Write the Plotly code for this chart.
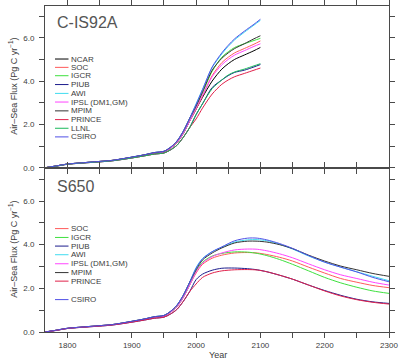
import plotly.graph_objects as go

# ---------------- data ----------------
years_is92a = [1765, 1780, 1800, 1820, 1850, 1870, 1900, 1920, 1935, 1950, 1960, 1970, 1980, 1990,
               2000, 2010, 2025, 2040, 2050, 2060, 2075, 2090, 2100]
years_s650 = [1765, 1780, 1800, 1820, 1850, 1870, 1900, 1920, 1935, 1950, 1960, 1970, 1980, 1990,
              2000, 2010, 2025, 2040, 2060, 2080, 2095, 2110, 2130, 2150, 2175, 2200, 2225, 2250, 2275, 2300]

hist_hi = [0.0, 0.07, 0.17, 0.22, 0.29, 0.34, 0.49, 0.60, 0.70, 0.76, 0.94, 1.22, 1.68, 2.28]
hist_mid = [0.0, 0.07, 0.17, 0.22, 0.29, 0.34, 0.48, 0.59, 0.68, 0.73, 0.90, 1.15, 1.58, 2.15]
hist_lo = [0.0, 0.06, 0.16, 0.21, 0.27, 0.32, 0.45, 0.55, 0.63, 0.68, 0.82, 1.03, 1.40, 1.85]

# IS92a (2000 onwards)
ncar_is92a = [2.70, 3.25, 4.00, 4.55, 4.80, 5.00, 5.20, 5.40, 5.55]
soc_is92a = [2.70, 3.30, 4.25, 4.85, 5.10, 5.30, 5.50, 5.70, 5.85]
igcr_is92a = [2.80, 3.45, 4.45, 5.10, 5.35, 5.55, 5.72, 5.87, 5.97]
piub_is92a = [2.45, 2.95, 3.70, 4.05, 4.25, 4.40, 4.50, 4.65, 4.76]
awi_is92a = [2.95, 3.62, 4.62, 5.25, 5.60, 5.90, 6.25, 6.58, 6.80]
ipsl_is92a = [2.75, 3.35, 4.20, 4.75, 5.00, 5.20, 5.40, 5.60, 5.72]
mpim_is92a = [2.85, 3.50, 4.50, 5.05, 5.30, 5.50, 5.72, 5.95, 6.09]
prince_is92a = [2.25, 2.75, 3.40, 3.85, 4.05, 4.20, 4.35, 4.50, 4.60]
llnl_is92a = [2.45, 2.95, 3.65, 4.05, 4.28, 4.42, 4.55, 4.70, 4.80]
csiro_is92a = [2.92, 3.60, 4.65, 5.30, 5.65, 5.95, 6.30, 6.62, 6.85]

# S650 (2000 onwards)
soc_s650 = [2.70, 3.10, 3.38, 3.52, 3.62, 3.64, 3.62, 3.55, 3.42, 3.25, 2.97, 2.70, 2.45, 2.28, 2.13, 2.03]
igcr_s650 = [2.80, 3.20, 3.48, 3.60, 3.67, 3.66, 3.60, 3.50, 3.32, 3.10, 2.80, 2.50, 2.25, 2.05, 1.88, 1.77]
piub_s650 = [2.40, 2.65, 2.83, 2.92, 2.93, 2.90, 2.85, 2.76, 2.60, 2.42, 2.15, 1.90, 1.68, 1.50, 1.38, 1.31]
awi_s650 = [2.95, 3.37, 3.68, 3.88, 4.12, 4.22, 4.23, 4.18, 4.02, 3.80, 3.48, 3.20, 2.97, 2.76, 2.55, 2.35]
ipsl_s650 = [2.75, 3.15, 3.45, 3.62, 3.76, 3.80, 3.79, 3.72, 3.58, 3.40, 3.12, 2.85, 2.62, 2.45, 2.28, 2.15]
mpim_s650 = [2.85, 3.30, 3.62, 3.85, 4.08, 4.16, 4.16, 4.12, 4.00, 3.82, 3.52, 3.25, 3.02, 2.85, 2.68, 2.55]
prince_s650 = [2.20, 2.50, 2.70, 2.80, 2.85, 2.86, 2.84, 2.76, 2.60, 2.42, 2.15, 1.88, 1.65, 1.48, 1.36, 1.28]
csiro_s650 = [2.92, 3.35, 3.68, 3.90, 4.18, 4.30, 4.30, 4.22, 4.05, 3.83, 3.50, 3.20, 2.97, 2.75, 2.50, 2.30]

models_is92a = ["NCAR", "SOC", "IGCR", "PIUB", "AWI", "IPSL (DM1,GM)", "MPIM", "PRINCE", "LLNL", "CSIRO"]
models_s650 = ["SOC", "IGCR", "PIUB", "AWI", "IPSL (DM1,GM)", "MPIM", "PRINCE", "CSIRO"]

colors = {
    "NCAR": "#000000", "SOC": "#ff5a5a", "IGCR": "#3ee03e", "PIUB": "#1c1c8c",
    "AWI": "#3fdcf0", "IPSL (DM1,GM)": "#ff44ff", "MPIM": "#333333",
    "PRINCE": "#e0204a", "LLNL": "#18b85a", "CSIRO": "#5050e6",
}
hist_class = {"NCAR": hist_mid, "SOC": hist_mid, "IGCR": hist_mid, "PIUB": hist_lo,
              "AWI": hist_hi, "IPSL (DM1,GM)": hist_mid, "MPIM": hist_hi,
              "PRINCE": hist_lo, "LLNL": hist_lo, "CSIRO": hist_hi}
future_is92a = {"NCAR": ncar_is92a, "SOC": soc_is92a, "IGCR": igcr_is92a, "PIUB": piub_is92a,
                "AWI": awi_is92a, "IPSL (DM1,GM)": ipsl_is92a, "MPIM": mpim_is92a,
                "PRINCE": prince_is92a, "LLNL": llnl_is92a, "CSIRO": csiro_is92a}
future_s650 = {"SOC": soc_s650, "IGCR": igcr_s650, "PIUB": piub_s650, "AWI": awi_s650,
               "IPSL (DM1,GM)": ipsl_s650, "MPIM": mpim_s650, "PRINCE": prince_s650,
               "CSIRO": csiro_s650}

x_tickvals = [1800, 1850, 1900, 1950, 2000, 2050, 2100, 2150, 2200, 2250, 2300]
x_ticktext = ["1800", "", "1900", "", "2000", "", "2100", "", "2200", "", "2300"]
y_tickvals = [0, 1, 2, 3, 4, 5, 6, 7]
y_ticktext = ["0.0", "", "2.0", "", "4.0", "", "6.0", ""]

# ---------------- figure ----------------
W, H = 409, 360
ML, MR, MT, MB = 45, 20, 0, 28
PW, PH = W - ML - MR, H - MT - MB
split_px = 164.7
split = 1 - split_px / PH

fig = go.Figure()
for m in models_is92a:
    fig.add_trace(go.Scatter(x=years_is92a, y=hist_class[m] + future_is92a[m], mode="lines",
                             line=dict(color=colors[m], width=1, shape="spline", smoothing=0.8),
                             xaxis="x", yaxis="y", showlegend=False, hoverinfo="skip"))
for m in models_s650:
    fig.add_trace(go.Scatter(x=years_s650, y=hist_class[m] + future_s650[m], mode="lines",
                             line=dict(color=colors[m], width=1, shape="spline", smoothing=0.8),
                             xaxis="x2", yaxis="y2", showlegend=False, hoverinfo="skip"))

font = "Liberation Sans, Arial, sans-serif"
axcol = "#4a4a4a"
txtcol = "#3c3c3c"
tickfont = dict(family=font, size=8, color=txtcol)
common_x = dict(range=[1765, 2300], tickmode="array", tickvals=x_tickvals, ticktext=x_ticktext,
                ticks="outside", ticklen=5, tickcolor=axcol, tickwidth=1,
                showline=True, linecolor=axcol, linewidth=1, mirror="ticks",
                showgrid=False, zeroline=False, tickfont=tickfont)
common_y = dict(tickmode="array", tickvals=y_tickvals, ticktext=y_ticktext,
                ticks="outside", ticklen=5, tickcolor=axcol, tickwidth=1,
                showline=True, linecolor=axcol, linewidth=1, mirror="ticks",
                showgrid=False, zeroline=False, tickfont=tickfont, ticklabelstandoff=3)

fig.update_layout(
    width=W, height=H, margin=dict(l=ML, r=MR, t=MT, b=MB),
    paper_bgcolor="white", plot_bgcolor="white",
    xaxis=dict(**common_x, anchor="y", showticklabels=False),
    yaxis=dict(**common_y, domain=[split, 1], range=[0, split_px / 22.07], anchor="x"),
    xaxis2=dict(**common_x, anchor="y2"),
    yaxis2=dict(**common_y, domain=[0, split], range=[0, (PH - split_px) / 22.23], anchor="x2"),
    xaxis3=dict(range=[1765, 2300], overlaying="x", anchor="free", position=1, side="top",
                tickmode="array", tickvals=x_tickvals, ticks="inside", ticklen=5,
                tickcolor=axcol, showticklabels=False, showline=False, showgrid=False,
                zeroline=False),
)

ann = []
shapes = []


def px_x(px):
    return (px - ML) / PW


def px_y(py):
    return 1 - (py - MT) / PH


# panel titles
ann.append(dict(text="C-IS92A", x=px_x(55), y=px_y(17), xref="paper", yref="paper",
                xanchor="left", yanchor="middle", showarrow=False,
                font=dict(family=font, size=16, color="#555555")))
ann.append(dict(text="S650", x=px_x(55), y=px_y(183.5), xref="paper", yref="paper",
                xanchor="left", yanchor="middle", showarrow=False,
                font=dict(family=font, size=16, color="#555555")))

# y-axis titles
for cy in (82.3, 248.3):
    ann.append(dict(text="Air\u2013Sea Flux (Pg C yr<sup>\u22121</sup>)", x=px_x(13), y=px_y(cy),
                    xref="paper", yref="paper", xanchor="center", yanchor="middle",
                    textangle=-90, showarrow=False,
                    font=dict(family=font, size=9, color=txtcol)))
# x-axis title
ann.append(dict(text="Year", x=px_x(218), y=px_y(355), xref="paper", yref="paper",
                xanchor="center", yanchor="middle", showarrow=False,
                font=dict(family=font, size=9, color=txtcol)))
# partial label of the panel above (cropped)
ann.append(dict(text="0.0", x=px_x(36), y=px_y(-3), xref="paper", yref="paper",
                xanchor="right", yanchor="bottom", showarrow=False, borderpad=0,
                font=dict(family=font, size=8, color=txtcol)))

# legends
leg_is92a_y = [54, 62.5, 71, 80, 89, 97.8, 106.8, 115.7, 124.5, 133.3]
leg_s650_y = [226.7, 235.7, 244.5, 253.3, 262.5, 271.5, 280.2, 299]
for names, ys in ((models_is92a, leg_is92a_y), (models_s650, leg_s650_y)):
    for m, yy in zip(names, ys):
        shapes.append(dict(type="line", xref="paper", yref="paper",
                           x0=px_x(55), x1=px_x(68.5), y0=px_y(yy), y1=px_y(yy),
                           line=dict(color=colors[m], width=1)))
        ann.append(dict(text=m, x=px_x(69), y=px_y(yy), xref="paper", yref="paper",
                        xanchor="left", yanchor="middle", showarrow=False,
                        font=dict(family=font, size=8, color=txtcol)))

fig.update_layout(annotations=ann, shapes=shapes)
fig.write_html("out.html", config={"displayModeBar": False},
               post_script="document.body.style.margin='0';document.body.style.padding='0';")
